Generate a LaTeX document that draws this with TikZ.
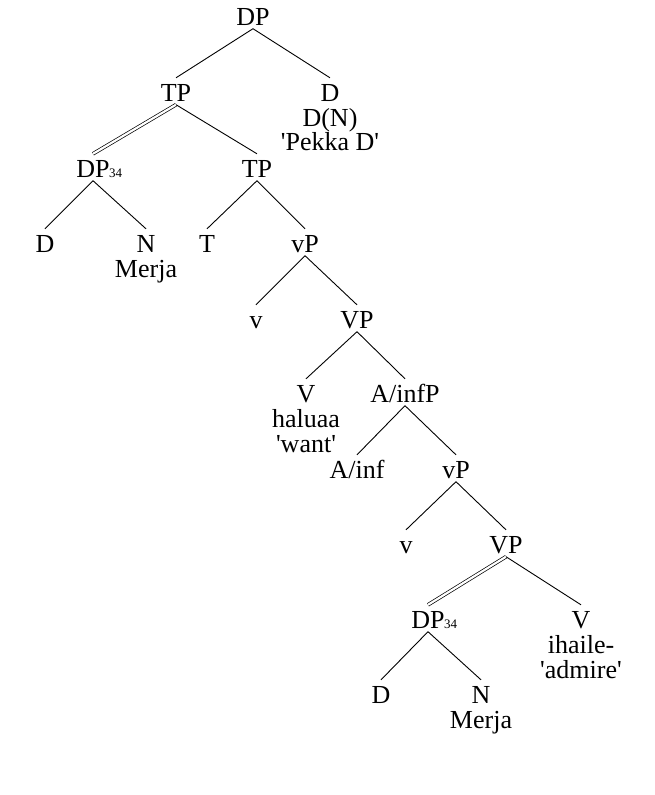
\documentclass[tikz,border=0pt]{standalone}
\usepackage{fontspec}
\setmainfont{Liberation Serif}
\usepackage{tikz}
\tikzset{
    cat/.style={anchor=base, inner xsep=1pt, inner ysep=1.5pt, text height=21.5pt, text depth=2pt, font=\fontsize{26}{25}\selectfont},
    gloss/.style={anchor=base, inner sep=0pt, font=\fontsize{26}{25}\selectfont},
    branch/.style={line width=0.9pt},
    moved/.style={double, double distance=2.2pt, line width=0.7pt}}
\newcommand{\idx}[1]{\rlap{\kern-0.5pt\fontsize{13}{13}\selectfont #1}}
\newcommand{\sq}{\textquotesingle}

\begin{document}
\begin{tikzpicture}[x=1pt, y=-1pt]
    \useasboundingbox (0,0) rectangle (655,795);
    % categories
    \node[cat] (dp) at (253, 25) {DP};
    \node[cat] (tp) at (176, 101) {TP};
    \node[cat] (d) at (330, 101) {D};
    \node[gloss] (dn) at (330, 126) {D(N)};
    \node[gloss] (pekka) at (330, 150) {\sq Pekka D\sq};
    \node[cat] (dpa) at (93, 177) {DP\idx{34}};
    \node[cat] (tpb) at (257, 177) {TP};
    \node[cat] (da) at (45, 252) {D};
    \node[cat] (na) at (146, 252) {N};
    \node[gloss] (merjaa) at (146, 277) {Merja};
    \node[cat] (t) at (207, 252) {T};
    \node[cat] (vpa) at (305, 252) {vP};
    \node[cat] (va) at (256, 328) {v};
    \node[cat] (vpb) at (357, 328) {VP};
    \node[cat] (vb) at (306, 402) {V};
    \node[gloss] (haluaa) at (306, 427) {haluaa};
    \node[gloss] (want) at (306, 452) {\sq want\sq};
    \node[cat] (ainfp) at (405, 402) {A/infP};
    \node[cat] (ainf) at (357, 478) {A/inf};
    \node[cat] (vpc) at (456, 478) {vP};
    \node[cat] (vc) at (406, 553) {v};
    \node[cat] (vpd) at (506, 553) {VP};
    \node[cat] (dpb) at (428, 628) {DP\idx{34}};
    \node[cat] (vd) at (581, 628) {V};
    \node[gloss] (ihaile) at (581, 653) {ihaile-};
    \node[gloss] (admire) at (581, 678) {\sq admire\sq};
    \node[cat] (db) at (381, 703) {D};
    \node[cat] (nb) at (481, 703) {N};
    \node[gloss] (merjab) at (481, 728) {Merja};
    % branches
    \draw[branch] (dp.south) -- (tp.north);
    \draw[branch] (dp.south) -- (d.north);
    \draw[moved] (tp.south) -- (dpa.north);
    \draw[branch] (tp.south) -- (tpb.north);
    \draw[branch] (dpa.south) -- (da.north);
    \draw[branch] (dpa.south) -- (na.north);
    \draw[branch] (tpb.south) -- (t.north);
    \draw[branch] (tpb.south) -- (vpa.north);
    \draw[branch] (vpa.south) -- (va.north);
    \draw[branch] (vpa.south) -- (vpb.north);
    \draw[branch] (vpb.south) -- (vb.north);
    \draw[branch] (vpb.south) -- (ainfp.north);
    \draw[branch] (ainfp.south) -- (ainf.north);
    \draw[branch] (ainfp.south) -- (vpc.north);
    \draw[branch] (vpc.south) -- (vc.north);
    \draw[branch] (vpc.south) -- (vpd.north);
    \draw[moved] (vpd.south) -- (dpb.north);
    \draw[branch] (vpd.south) -- (vd.north);
    \draw[branch] (dpb.south) -- (db.north);
    \draw[branch] (dpb.south) -- (nb.north);
\end{tikzpicture}
\end{document}
